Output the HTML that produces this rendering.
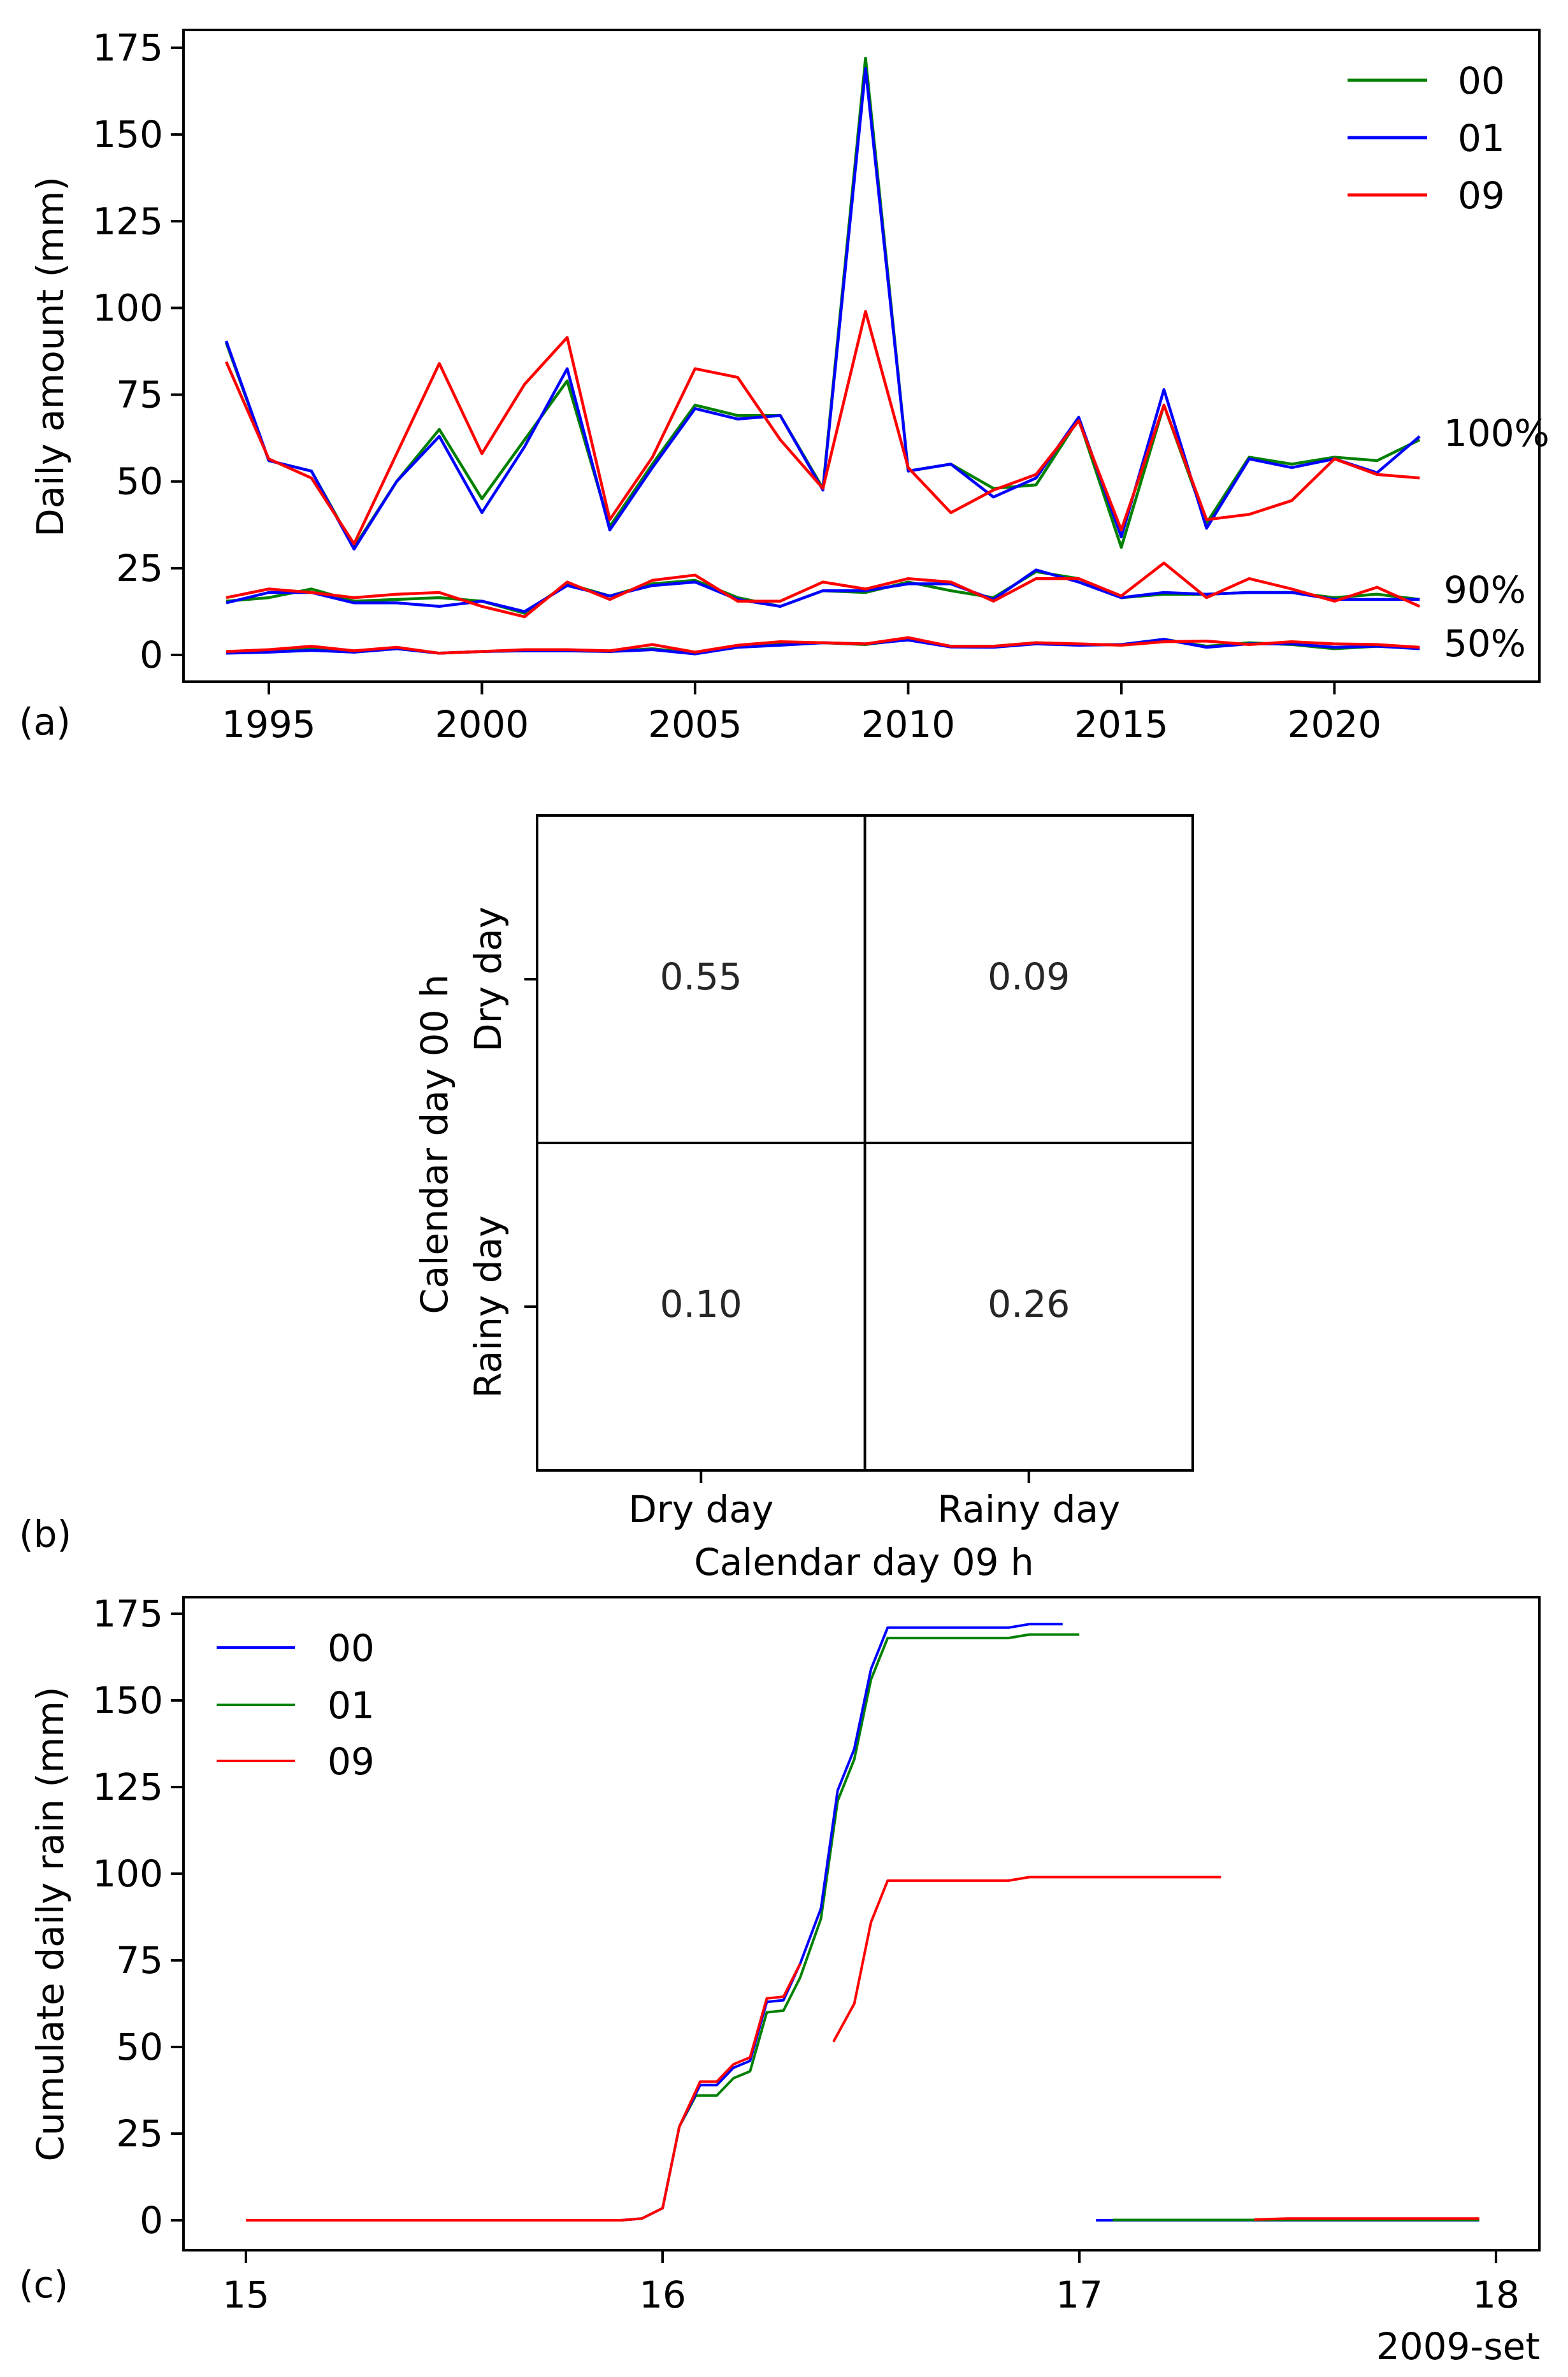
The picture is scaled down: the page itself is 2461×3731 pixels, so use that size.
<!DOCTYPE html>
<html><head><meta charset="utf-8"><style>
html,body{margin:0;padding:0;background:#fff;}
svg{display:block;font-family:"DejaVu Sans","Liberation Sans",sans-serif;}
</style></head><body>
<svg id="fig" width="2461" height="3731" viewBox="0 0 2461 3731" xmlns="http://www.w3.org/2000/svg">
<rect width="2461" height="3731" fill="#fff"/>
<g id="pa"></g>
<g id="pb"></g>
<g id="pc"></g>
</svg>
<script>
// ---- Panel (a) data ----
const years = [1994,1995,1996,1997,1998,1999,2000,2001,2002,2003,2004,2005,2006,2007,2008,2009,2010,2011,2012,2013,2014,2015,2016,2017,2018,2019,2020,2021,2022];
const max00 = [90,56,53,31,50,65,45,62,79,37,55,72,69,69,48,172,53,55,48,49,68,31,72,38,57,55,57,56,62];
const max01 = [90.5,56,53,30.5,50,63,41,60,82.5,36,54,71,68,69,47.5,169,53,55,45.5,51,68.5,34,76.5,36.5,56.5,54,56.5,52.5,63];
const max09 = [84.5,56.5,51,32,58,84,58,78,91.5,39,57,82.5,80,62,48,99,54,41,47.5,52,67.5,36,72,39,40.5,44.5,56.5,52,51];
const p90_00 = [15.5,16.5,19,15.5,16,16.5,15.5,12,20.5,17,20.5,21.5,16.5,14,18.5,18,21,18.5,16.5,24,22,16.5,17.5,17.5,18,18,16.5,17.5,16];
const p90_01 = [15,18,18,15,15,14,15.5,12.5,20,17,20,21,16,14,18.5,18.5,20.5,20.5,16,24.5,21,16.5,18,17.5,18,18,16,16,16];
const p90_09 = [16.5,19,18,16.5,17.5,18,14,11,21,16,21.5,23,15.5,15.5,21,19,22,21,15.5,22,22,17,26.5,16.5,22,19,15.5,19.5,14];
const p50_00 = [0.8,1.2,1.8,0.8,1.8,0.5,1,1.2,1.2,1,1.8,0.5,2.5,3,3.5,3,4.5,2.5,2.5,3.5,3,3,4.5,2.5,3.5,3,1.8,2.5,2];
const p50_01 = [0.5,0.8,1.3,0.8,1.8,0.5,1,1.2,1.2,1,1.5,0.3,2.2,2.8,3.5,3.2,4.3,2.3,2.2,3.2,2.8,3,4.5,2.2,3.2,3.2,2.2,2.5,1.8];
const p50_09 = [1,1.5,2.5,1.2,2.2,0.5,1,1.5,1.5,1.2,3,0.8,2.8,3.8,3.5,3.2,5,2.5,2.5,3.5,3.2,2.8,3.8,4,3,3.8,3.2,3,2.2];
const aYTicks = [0,25,50,75,100,125,150,175];
const aXTicks = [1995,2000,2005,2010,2015,2020];
// ---- Panel (b) data ----
const bRows = ["Dry day","Rainy day"];
const bCols = ["Dry day","Rainy day"];
const bValues = [[0.55,0.09],[0.10,0.26]];
// ---- Panel (c) data ----
const c00x = [15,15.9,15.95,16.0,16.04,16.09,16.13,16.17,16.21,16.25,16.29,16.33,16.38,16.42,16.46,16.5,16.54,16.83,16.88,16.96];
const c00y = [0,0,0.5,3.5,27,39,39,44,46,63,63.5,74,90,124,136,159,171,171,172,172];
const c01x = [15,15.9,15.95,16.0,16.04,16.08,16.13,16.17,16.21,16.25,16.29,16.33,16.38,16.42,16.46,16.5,16.54,16.83,16.88,17.0];
const c01y = [0,0,0.5,3.5,27,36,36,41,43,60,60.5,70,87,121,133,156,168,168,169,169];
const c09x = [15,15.9,15.95,16.0,16.04,16.09,16.13,16.17,16.21,16.25,16.29,16.33];
const c09y = [0,0,0.5,3.5,27,40,40,45,47,64,64.5,74];
const c09bx = [16.41,16.46,16.5,16.54,16.83,16.88,17.34];
const c09by = [51.5,62.5,86,98,98,99,99];
const c00bx = [17.04,17.96]; const c00by = [0,0];
const c01bx = [17.08,17.96]; const c01by = [0.1,0.1];
const c09cx = [17.42,17.5,17.96]; const c09cy = [0.2,0.5,0.5];
const cYTicks = [0,25,50,75,100,125,150,175];
const cXTicks = [15,16,17,18];

const NS="http://www.w3.org/2000/svg";
function mk(parent,tag,attrs,text){const e=document.createElementNS(NS,tag);for(const k in attrs)e.setAttribute(k,attrs[k]);if(text!==undefined)e.textContent=text;parent.appendChild(e);return e;}
const FS=58;

// ===== Panel a =====
const pa=document.getElementById('pa');
const aL=288,aR=2416,aT=47,aB=1070;
const ax=v=>355+(v-1994)*66.9;
const ay=v=>1028-v*5.446;
aYTicks.forEach(t=>{
  const l=mk(pa,'line',{x1:aL-20,x2:aL,y1:ay(t),y2:ay(t),stroke:'#000','stroke-width':4});
  
  
  const tx=mk(pa,'text',{x:aL-32,y:ay(t)+20,'font-size':FS,'text-anchor':'end'},String(t));
  
  
});
aXTicks.forEach(t=>{
  const l=mk(pa,'line',{x1:ax(t),x2:ax(t),y1:aB,y2:aB+20,stroke:'#000','stroke-width':4});
  
  
  const tx=mk(pa,'text',{x:ax(t),y:1157,'font-size':FS,'text-anchor':'middle'},String(t));
  
  
});
function poly(parent,xs,ys,fx,fy,color,name,w){
  const pts=xs.map((x,i)=>fx(x).toFixed(1)+','+fy(ys[i]).toFixed(1)).join(' ');
  const p=mk(parent,'polyline',{points:pts,fill:'none',stroke:color,'stroke-width':w||4.5,'stroke-linejoin':'round'});
  
  
}
[[max00,'green','max-00'],[max01,'blue','max-01'],[max09,'red','max-09'],
 [p90_00,'green','p90-00'],[p90_01,'blue','p90-01'],[p90_09,'red','p90-09'],
 [p50_00,'green','p50-00'],[p50_01,'blue','p50-01'],[p50_09,'red','p50-09']].forEach(s=>poly(pa,years,s[0],ax,ay,s[1],s[2]));
mk(pa,'rect',{x:aL,y:aT,width:aR-aL,height:aB-aT,fill:'none',stroke:'#000','stroke-width':4,});
[['00','green',126],['01','blue',216],['09','red',306]].forEach(e=>{
  const l=mk(pa,'line',{x1:2115,x2:2240,y1:e[2],y2:e[2],stroke:e[1],'stroke-width':5});
  
  
  const t=mk(pa,'text',{x:2288,y:e[2]+21,'font-size':FS},e[0]);
  
  
});
[['100%',700],['90%',946],['50%',1030]].forEach(e=>{
  const t=mk(pa,'text',{x:2266,y:e[1],'font-size':FS},e[0]);
  
  
});
mk(pa,'text',{x:79,y:560,'font-size':FS,'text-anchor':'middle',transform:'rotate(-90 79 560)','dominant-baseline':'central',},'Daily amount (mm)');
mk(pa,'text',{x:30,y:1153,'font-size':FS,},'(a)');

// ===== Panel b =====
const pb=document.getElementById('pb');
const bL=843,bR=1872,bT=1280,bB=2308;
const bcw=(bR-bL)/bCols.length, bch=(bB-bT)/bRows.length;
bValues.forEach((row,i)=>row.forEach((v,j)=>{
  const r=mk(pb,'rect',{x:bL+j*bcw,y:bT+i*bch,width:bcw,height:bch,fill:'#fff',stroke:'#000','stroke-width':4});
  
  
  const t=mk(pb,'text',{x:bL+(j+0.5)*bcw,y:bT+(i+0.5)*bch+16,'font-size':FS,'text-anchor':'middle',fill:'#262626'},v.toFixed(2));
  
  
}));
bRows.forEach((r,i)=>{
  const y=bT+(i+0.5)*bch;
  mk(pb,'line',{x1:bL-20,x2:bL,y1:y,y2:y,stroke:'#000','stroke-width':4,});
  mk(pb,'text',{x:766,y:y,'font-size':FS,'text-anchor':'middle','dominant-baseline':'central',transform:'rotate(-90 766 '+y+')',},r);
});
bCols.forEach((c,j)=>{
  const x=bL+(j+0.5)*bcw;
  mk(pb,'line',{x1:x,x2:x,y1:bB,y2:bB+20,stroke:'#000','stroke-width':4,});
  mk(pb,'text',{x:x,y:2389,'font-size':FS,'text-anchor':'middle',},c);
});
mk(pb,'text',{x:1356,y:2472,'font-size':FS,'text-anchor':'middle',},'Calendar day 09 h');
mk(pb,'text',{x:682,y:1796,'font-size':FS,'text-anchor':'middle','dominant-baseline':'central',transform:'rotate(-90 682 1796)',},'Calendar day 00 h');
mk(pb,'text',{x:30,y:2428,'font-size':FS,},'(b)');

// ===== Panel c =====
const pc=document.getElementById('pc');
const cL=288,cR=2416,cT=2507,cB=3532;
const cx=v=>386+(v-15)*654;
const cy=v=>3485-v*5.44;
cYTicks.forEach(t=>{
  mk(pc,'line',{x1:cL-20,x2:cL,y1:cy(t),y2:cy(t),stroke:'#000','stroke-width':4,});
  mk(pc,'text',{x:cL-32,y:cy(t)+20,'font-size':FS,'text-anchor':'end',},String(t));
});
cXTicks.forEach(t=>{
  mk(pc,'line',{x1:cx(t),x2:cx(t),y1:cB,y2:cB+20,stroke:'#000','stroke-width':4,});
  mk(pc,'text',{x:cx(t),y:3622,'font-size':FS,'text-anchor':'middle',},String(t));
});
poly(pc,c01x,c01y,cx,cy,'green','cum-01',4);
poly(pc,c00x,c00y,cx,cy,'blue','cum-00',4);
poly(pc,c09x,c09y,cx,cy,'red','cum-09',4);
poly(pc,c09bx,c09by,cx,cy,'red','cum-09-shifted',4);
poly(pc,c00bx,c00by,cx,cy,'blue','cum-00-next',4);
poly(pc,c01bx,c01by,cx,cy,'green','cum-01-next',4);
poly(pc,c09cx,c09cy,cx,cy,'red','cum-09-next',4);
mk(pc,'rect',{x:cL,y:cT,width:cR-cL,height:cB-cT,fill:'none',stroke:'#000','stroke-width':4,});
[['00','blue',2586],['01','green',2676],['09','red',2764]].forEach(e=>{
  mk(pc,'line',{x1:340,x2:463,y1:e[2],y2:e[2],stroke:e[1],'stroke-width':4,});
  mk(pc,'text',{x:514,y:e[2]+21,'font-size':FS,},e[0]);
});
mk(pc,'text',{x:79,y:3020,'font-size':FS,'text-anchor':'middle','dominant-baseline':'central',transform:'rotate(-90 79 3020)',},'Cumulate daily rain (mm)');
mk(pc,'text',{x:2417,y:3703,'font-size':FS,'text-anchor':'end',},'2009-set');
mk(pc,'text',{x:30,y:3606,'font-size':FS,},'(c)');
</script>
</body></html>
